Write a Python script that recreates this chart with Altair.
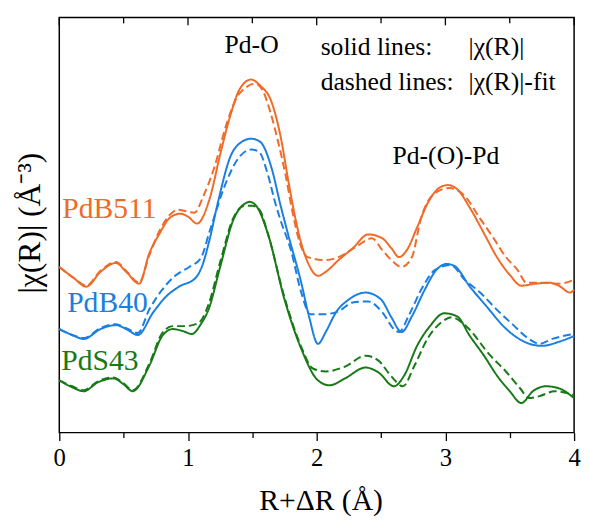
import altair as alt
import pandas as pd

# ---- data (R in Å, |chi(R)| in arbitrary offset units) ----
SAMPLES = ["PdB511", "PdB40", "PdS43"]
COLORS = ["#F06A28", "#1A7FE0", "#177A17"]

R_B511_EXP = [0.00, 0.11, 0.21, 0.32, 0.44, 0.52, 0.62, 0.70, 0.78, 0.86, 0.94, 1.00, 1.07, 1.17, 1.25, 1.33, 1.40, 1.49, 1.56, 1.65, 1.72, 1.78, 1.83, 1.88, 1.94, 2.01, 2.07, 2.17, 2.28, 2.40, 2.51, 2.58, 2.64, 2.70, 2.78, 2.86, 2.95, 3.02, 3.09, 3.19, 3.30, 3.40, 3.50, 3.59, 3.70, 3.81, 3.88, 3.97, 4.00]
Y_B511_EXP = [168, 157, 148, 163, 172, 163, 151, 182, 202, 218, 222, 219, 212, 238, 282, 322, 348, 358, 352, 335, 300, 255, 220, 192, 170, 159, 163, 175, 187, 201, 197, 187, 178, 185, 208, 232, 248, 251, 247, 228, 202, 178, 160, 149, 151, 152, 149, 142, 145]

R_B511_FIT = [0.00, 0.11, 0.21, 0.32, 0.44, 0.52, 0.62, 0.70, 0.78, 0.86, 0.92, 1.05, 1.12, 1.20, 1.30, 1.38, 1.45, 1.52, 1.58, 1.64, 1.70, 1.76, 1.81, 1.87, 1.93, 2.07, 2.17, 2.30, 2.43, 2.51, 2.58, 2.66, 2.74, 2.81, 2.91, 3.03, 3.15, 3.27, 3.37, 3.47, 3.56, 3.63, 3.75, 3.88, 4.00]
Y_B511_FIT = [168, 157, 149, 164, 173, 164, 152, 180, 205, 221, 226, 223, 240, 267, 313, 340, 350, 354, 347, 325, 295, 260, 225, 192, 178, 175, 178, 188, 197, 185, 175, 168, 178, 217, 242, 248, 240, 217, 198, 178, 165, 152, 152, 151, 155]

R_B40_EXP = [0.00, 0.10, 0.19, 0.32, 0.44, 0.52, 0.61, 0.73, 0.83, 0.93, 1.06, 1.11, 1.17, 1.23, 1.33, 1.42, 1.49, 1.56, 1.65, 1.72, 1.78, 1.88, 1.94, 2.01, 2.07, 2.15, 2.25, 2.38, 2.50, 2.58, 2.66, 2.74, 2.84, 2.93, 3.01, 3.07, 3.19, 3.32, 3.45, 3.60, 3.75, 3.88, 4.00]
Y_B40_EXP = [105, 99, 95, 105, 109, 105, 99, 122, 138, 148, 157, 169, 197, 232, 280, 295, 298, 295, 268, 230, 200, 152, 118, 90, 102, 122, 135, 142, 135, 117, 102, 118, 145, 165, 171, 169, 148, 128, 108, 93, 88, 92, 98]

R_B40_FIT = [0.00, 0.10, 0.19, 0.32, 0.44, 0.52, 0.61, 0.70, 0.80, 0.90, 1.01, 1.10, 1.17, 1.30, 1.39, 1.49, 1.55, 1.62, 1.68, 1.72, 1.80, 1.88, 1.95, 2.05, 2.17, 2.28, 2.40, 2.51, 2.60, 2.64, 2.72, 2.82, 2.92, 3.04, 3.15, 3.27, 3.42, 3.52, 3.65, 3.73, 3.83, 4.00]
Y_B40_FIT = [105, 99, 96, 106, 110, 106, 101, 125, 145, 159, 168, 177, 205, 255, 278, 287, 285, 262, 232, 215, 185, 142, 120, 120, 123, 132, 133, 122, 105, 102, 120, 147, 165, 170, 155, 142, 122, 110, 95, 90, 95, 100]

R_S43_EXP = [0.00, 0.10, 0.19, 0.30, 0.42, 0.50, 0.57, 0.70, 0.80, 0.88, 0.96, 1.03, 1.10, 1.16, 1.25, 1.35, 1.44, 1.48, 1.53, 1.62, 1.75, 1.88, 2.01, 2.10, 2.22, 2.38, 2.48, 2.60, 2.68, 2.78, 2.88, 2.99, 3.09, 3.19, 3.30, 3.40, 3.50, 3.59, 3.68, 3.78, 3.88, 4.00]
Y_S43_EXP = [53, 46, 42, 51, 55, 49, 42, 68, 98, 105, 103, 100, 110, 125, 168, 215, 232, 234, 230, 202, 135, 85, 53, 48, 55, 66, 61, 47, 58, 88, 108, 121, 118, 98, 78, 58, 42, 30, 42, 47, 45, 35]

R_S43_FIT = [0.00, 0.10, 0.19, 0.30, 0.42, 0.50, 0.57, 0.70, 0.80, 0.88, 0.98, 1.08, 1.16, 1.25, 1.35, 1.44, 1.50, 1.56, 1.62, 1.75, 1.88, 1.97, 2.07, 2.22, 2.38, 2.48, 2.58, 2.67, 2.76, 2.86, 2.97, 3.05, 3.16, 3.35, 3.47, 3.58, 3.65, 3.73, 3.85, 4.00]
Y_S43_FIT = [53, 47, 43, 52, 56, 50, 43, 70, 101, 108, 108, 111, 130, 173, 217, 230, 230, 225, 202, 137, 87, 65, 62, 67, 78, 73, 57, 47, 68, 95, 112, 117, 108, 78, 62, 45, 35, 37, 42, 38]

X_TICKS = [0, 0.5, 1, 1.5, 2, 2.5, 3, 3.5, 4]
X_MAJOR = [0, 1, 2, 3, 4]
X_MINOR = [0.5, 1.5, 2.5, 3.5]

SERIES = [
    ("PdB511", "solid", R_B511_EXP, Y_B511_EXP),
    ("PdB511", "dashed", R_B511_FIT, Y_B511_FIT),
    ("PdB40", "solid", R_B40_EXP, Y_B40_EXP),
    ("PdB40", "dashed", R_B40_FIT, Y_B40_FIT),
    ("PdS43", "solid", R_S43_EXP, Y_S43_EXP),
    ("PdS43", "dashed", R_S43_FIT, Y_S43_FIT),
]

rows = []
for sample, kind, rs, ys in SERIES:
    for i, (r, y) in enumerate(zip(rs, ys)):
        rows.append({"R": r, "chi": y, "sample": sample, "kind": kind, "order": i})
df = pd.DataFrame(rows)

FONT = "Liberation Serif"

xscale = alt.Scale(domain=[0, 4], nice=False, zero=False)
yscale = alt.Scale(domain=[0, 421], nice=False, zero=False)

lines = alt.Chart(df).mark_line(strokeWidth=2, interpolate="monotone").encode(
    x=alt.X("R:Q", scale=xscale,
            axis=alt.Axis(values=X_TICKS,
                          labelExpr="datum.value % 1 === 0 ? format(datum.value, 'd') : ''",
                          tickSize={"condition": {"test": "datum.value % 1 !== 0", "value": 5}, "value": 8},
                          tickColor="black", tickWidth=1.3, domain=False, grid=False,
                          labelFont=FONT, labelFontSize=25, labelColor="black",
                          labelPadding=5, labelFlush=False,
                          title="R+ΔR (Å)", titleFont=FONT, titleFontSize=30,
                          titleFontWeight="normal", titleColor="black",
                          titleX=265, titleY=78, titleBaseline="alphabetic",
                          titleAlign="center")),
    y=alt.Y("chi:Q", scale=yscale,
            axis=alt.Axis(domain=False, ticks=False, labels=False, grid=False,
                          title="|χ(R)| (Å⁻³)", titleFont=FONT, titleFontSize=32,
                          titleFontWeight="normal", titleColor="black",
                          titleAngle=270, titleX=-20, titleY=208,
                          titleAlign="center", titleBaseline="alphabetic")),
    color=alt.Color("sample:N", scale=alt.Scale(domain=SAMPLES, range=COLORS), legend=None),
    strokeDash=alt.StrokeDash("kind:N", scale=alt.Scale(domain=["solid", "dashed"], range=[[1, 0], [8, 4]]), legend=None),
    detail="kind:N",
    order="order:Q",
)

ticks_df = pd.DataFrame({"x": X_MAJOR})
minor_df = pd.DataFrame({"x": X_MINOR})
top_major = alt.Chart(ticks_df).mark_rule(color="black", strokeWidth=1.3).encode(
    x=alt.X("x:Q", scale=xscale), y=alt.value(0), y2=alt.value(8))
top_minor = alt.Chart(minor_df).mark_rule(color="black", strokeWidth=1.3).encode(
    x=alt.X("x:Q", scale=xscale), y=alt.value(0), y2=alt.value(6))


def label(text, x, y, size, color="black", align="left"):
    return alt.Chart(pd.DataFrame({"t": [text]})).mark_text(
        font=FONT, fontSize=size, color=color, align=align, baseline="alphabetic"
    ).encode(text="t:N", x=alt.value(x), y=alt.value(y))


texts = [
    label("Pd-O", 195, 36, 26, align="center"),
    label("solid lines:", 265, 38, 26),
    label("|χ(R)|", 415, 38, 26),
    label("dashed lines:", 265, 74, 26),
    label("|χ(R)|-fit", 415, 74, 26),
    label("Pd-(O)-Pd", 392, 149, 26, align="center"),
    label(SAMPLES[0], 3, 203, 30, color=COLORS[0]),
    label(SAMPLES[1], 8, 299, 30, color=COLORS[1]),
    label(SAMPLES[2], 2, 357, 30, color=COLORS[2]),
]

chart = alt.layer(lines, top_major, top_minor, *texts).properties(
    width=522, height=421,
    autosize=alt.AutoSizeParams(type="none"),
    padding={"left": 52, "top": 6, "right": 7, "bottom": 82},
).configure(background="white", font=FONT).configure_view(
    stroke="black", strokeWidth=1.5
).configure_text(font=FONT)

chart.save("out.html", embed_options={"renderer": "svg", "actions": False})
